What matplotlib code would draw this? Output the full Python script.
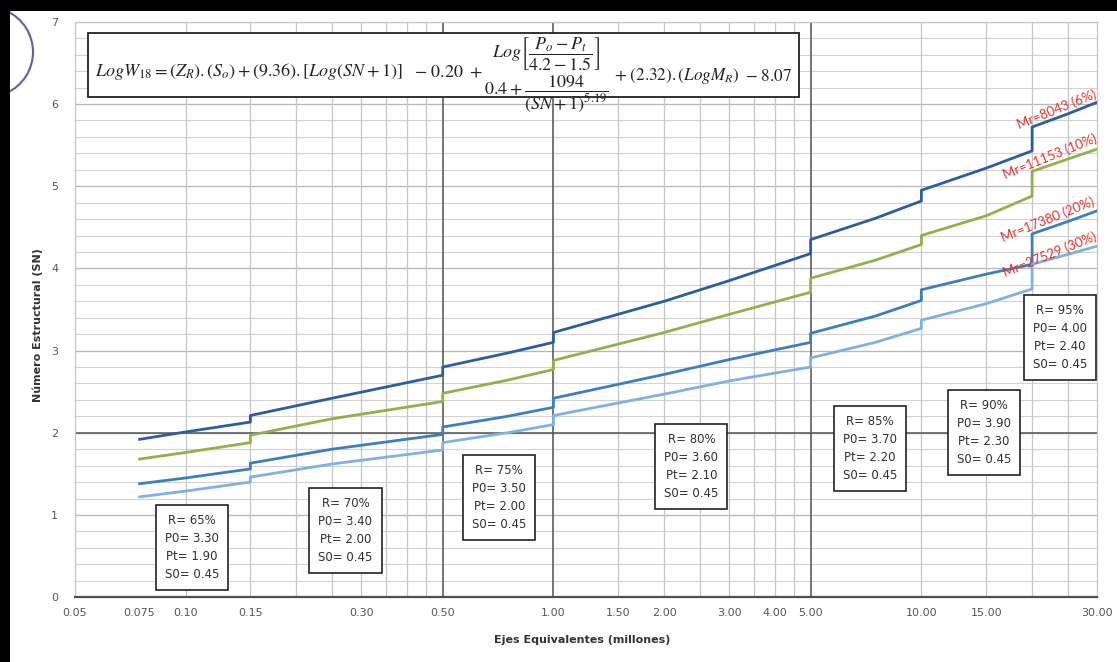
import matplotlib
matplotlib.use("Agg")
import matplotlib.pyplot as plt
from matplotlib.patches import Rectangle, Arc
import numpy as np

plt.rcParams["font.family"] = ["DejaVu Sans"]
plt.rcParams["mathtext.fontset"] = "stix"

# Equivalent axle loads (millions); repeated values mark the reliability steps
w18 = [0.075, 0.10, 0.15, 0.15, 0.25, 0.50, 0.50, 0.75, 1.00,
       1.00, 2.00, 3.00, 5.00, 5.00, 7.50, 10.0, 10.0, 15.0, 20.0,
       20.0, 25.0, 30.0]

sn_mr8043 = [1.92, 2.01, 2.13, 2.21, 2.42, 2.70, 2.80, 2.97, 3.10,
             3.22, 3.60, 3.85, 4.18, 4.35, 4.61, 4.82, 4.95, 5.22, 5.43,
             5.72, 5.88, 6.02]
sn_mr11153 = [1.68, 1.76, 1.88, 1.97, 2.17, 2.38, 2.48, 2.64, 2.77,
              2.88, 3.22, 3.44, 3.71, 3.88, 4.10, 4.29, 4.40, 4.64, 4.88,
              5.18, 5.33, 5.45]
sn_mr17380 = [1.38, 1.45, 1.56, 1.63, 1.80, 1.98, 2.07, 2.20, 2.31,
              2.42, 2.71, 2.89, 3.10, 3.21, 3.42, 3.61, 3.74, 3.93, 4.05,
              4.42, 4.57, 4.70]
sn_mr27529 = [1.22, 1.29, 1.40, 1.46, 1.62, 1.79, 1.88, 2.00, 2.10,
              2.21, 2.47, 2.63, 2.80, 2.91, 3.10, 3.27, 3.37, 3.57, 3.75,
              4.05, 4.17, 4.27]

series_labels = ["Mr=8043 (6%)", "Mr=11153 (10%)", "Mr=17380 (20%)", "Mr=27529 (30%)"]
series_colors = ["#2c5e9f", "#8fb24a", "#3b7fc1", "#7fb2e2"]
label_pos = [(23.3, 5.93), (22.4, 5.36), (22.0, 4.59), (22.3, 4.17)]

# Design parameters for each reliability range
box_text = [
    ("R= 65%", "P0= 3.30", "Pt= 1.90", "S0= 0.45"),
    ("R= 70%", "P0= 3.40", "Pt= 2.00", "S0= 0.45"),
    ("R= 75%", "P0= 3.50", "Pt= 2.00", "S0= 0.45"),
    ("R= 80%", "P0= 3.60", "Pt= 2.10", "S0= 0.45"),
    ("R= 85%", "P0= 3.70", "Pt= 2.20", "S0= 0.45"),
    ("R= 90%", "P0= 3.90", "Pt= 2.30", "S0= 0.45"),
    ("R= 95%", "P0= 4.00", "Pt= 2.40", "S0= 0.45"),
]
box_pos = [(0.104, 0.60), (0.272, 0.81), (0.712, 1.21), (2.37, 1.59),
           (7.26, 1.81), (14.8, 2.00), (23.8, 3.16)]

x_ticks = [0.05, 0.075, 0.10, 0.15, 0.30, 0.50, 1.00, 1.50, 2.00, 3.00,
           4.00, 5.00, 10.00, 15.00, 30.00]
x_tick_labels = ["0.05", "0.075", "0.10", "0.15", "0.30", "0.50", "1.00",
                 "1.50", "2.00", "3.00", "4.00", "5.00", "10.00", "15.00", "30.00"]
x_grid_light = [0.10, 0.15, 0.20, 0.25, 0.30, 0.35, 0.40, 0.45,
                1.5, 2.0, 2.5, 3.0, 3.5, 4.0, 4.5, 10, 15, 20, 25]
x_grid_dark = [0.50, 1.00, 5.00]
y_ticks = [0, 1, 2, 3, 4, 5, 6, 7]

W, H = 1117, 662
fig = plt.figure(figsize=(W / 100, H / 100), dpi=100)
ax = fig.add_axes([0.067, 0.098, 0.915, 0.869])
ax.set_xscale("log")
ax.set_xlim(0.05, 30)
ax.set_ylim(0, 7)

# grid
for yv in np.arange(0.2, 7.0, 0.2):
    ax.axhline(yv, color="#d2d2d2", lw=0.8, zorder=0)
for yv in y_ticks[1:]:
    ax.axhline(yv, color="#b8b8b8", lw=0.9, zorder=0)
ax.axhline(2, color="#555555", lw=1.1, zorder=0.5)
for xv in x_grid_light:
    ax.axvline(xv, color="#c6c6c6", lw=0.9, zorder=0)
for xv in x_grid_dark:
    ax.axvline(xv, color="#505050", lw=1.1, zorder=0.5)

curves = [sn_mr8043, sn_mr11153, sn_mr17380, sn_mr27529]
for vals, col in zip(curves, series_colors):
    ax.plot(w18, vals, color=col, lw=2.0, zorder=3)

for (lx, ly), txt in zip(label_pos, series_labels):
    ax.text(lx, ly, txt, color="#e8302c", fontsize=9.5, rotation=22,
            ha="center", va="center", rotation_mode="anchor", zorder=4,
            family="Lato")

for (bx, by), lines in zip(box_pos, box_text):
    ax.text(bx, by, "\n".join(lines), ha="center", va="center", fontsize=8.5,
            color="#303030", linespacing=1.5, zorder=5,
            bbox=dict(boxstyle="square,pad=0.75", fc="white", ec="#222222", lw=1.2))

ax.set_xticks(x_ticks)
ax.set_xticklabels(x_tick_labels)
ax.xaxis.set_minor_locator(matplotlib.ticker.NullLocator())
ax.set_yticks(y_ticks)
ax.tick_params(axis="both", length=0, labelsize=8, colors="#555555")
ax.tick_params(axis="x", pad=8)
ax.tick_params(axis="y", pad=12)
for s in ["left", "top", "right"]:
    ax.spines[s].set_color("#c6c6c6")
    ax.spines[s].set_linewidth(0.9)
ax.spines["bottom"].set_color("#505050")
ax.spines["bottom"].set_linewidth(1.6)


def px(x, y):
    """Pixel position (from top-left) to figure fraction."""
    return x / W, 1 - y / H


# AASHTO 93 design equation, laid out piece by piece inside its frame
ax.add_patch(Rectangle((0.0127, 0.870), 0.696, 0.111, transform=ax.transAxes,
                       fc="white", ec="#222222", lw=1.3, zorder=6))
eq_parts = [
    (95, 72, r"$LogW_{18}=(Z_R).(S_o)+(9.36).[Log(SN+1)]$", "left", 13),
    (414, 72, r"$-\ 0.20\ +$", "left", 13),
    (546, 54, r"$Log\left[\dfrac{P_o-P_t}{4.2-1.5}\right]$", "center", 13),
    (546, 94, r"$0.4+\dfrac{1094}{(SN+1)^{5.19}}$", "center", 13),
    (614, 76, r"$+\ (2.32).(LogM_R)$", "left", 12.3),
    (745, 76, r"$-\ 8.07$", "left", 12.3),
]
for ex, ey, txt, ha, fs in eq_parts:
    fx, fy = px(ex, ey)
    fig.text(fx, fy, txt, fontsize=fs, ha=ha, va="center", color="#222222",
             zorder=7)

fig.text(0.034, 0.509, "Número Estructural (SN)", rotation=90, ha="center",
         va="center", fontsize=8, fontweight="bold", color="#333333")
fig.text(0.521, 0.033, "Ejes Equivalentes (millones)", ha="center",
         va="center", fontsize=8, fontweight="bold", color="#333333")

# scanned sheet frame and stamp
fig.patches.append(Rectangle((0, 1 - 11 / H), 1, 11 / H, transform=fig.transFigure,
                             fc="black", ec="none", zorder=10))
fig.patches.append(Rectangle((0, 0), 10 / W, 1, transform=fig.transFigure,
                             fc="black", ec="none", zorder=10))
fig.patches.append(Arc((-12 / W, 1 - 52 / H), 90 / W, 90 / H,
                       theta1=-75, theta2=75, transform=fig.transFigure,
                       color="#6a5aa8", lw=1.5, zorder=9))

fig.savefig("out.png", dpi=100)
